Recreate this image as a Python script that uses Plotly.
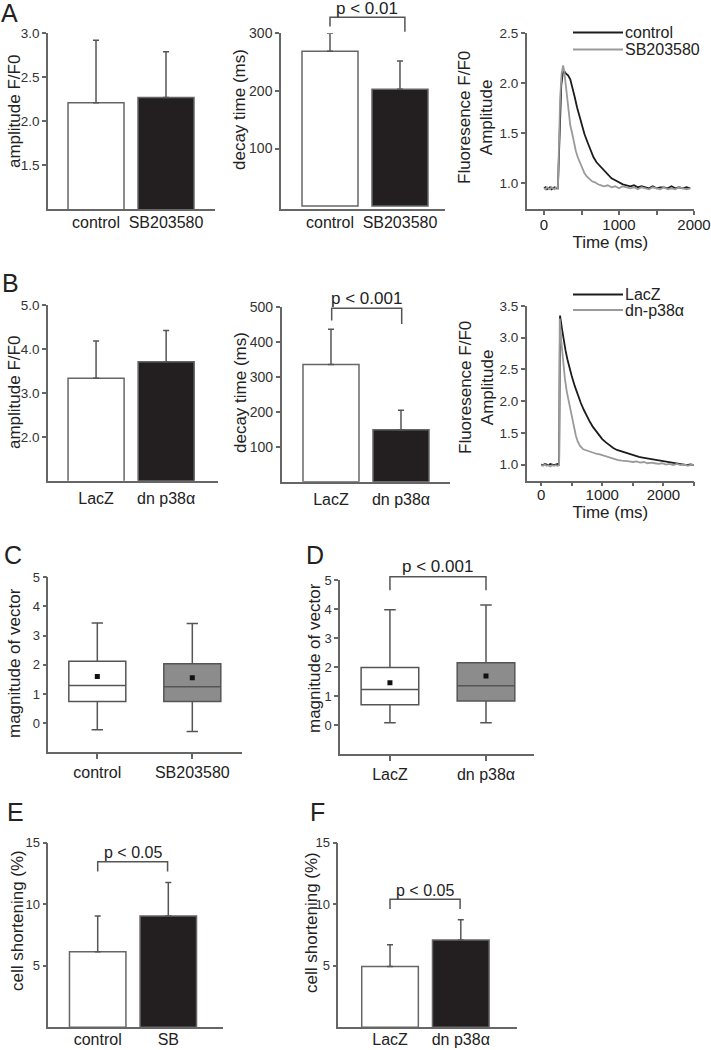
import plotly.graph_objects as go

W, H = 711, 1050
FONT = "Arial, Liberation Sans, Helvetica, sans-serif"
AX = "#666666"
TXT = "#222222"
TICKC = "#333333"

# ---------------- data ----------------
a_cats = ["control", "SB203580"]
a_amp = [2.21, 2.27]
a_amp_err = [0.71, 0.52]
a_decay = [269, 203]
a_decay_err = [31, 49]

b_cats = ["LacZ", "dn p38α"]
b_amp = [3.33, 3.71]
b_amp_err = [0.85, 0.71]
b_decay = [336, 149]
b_decay_err = [101, 56]

# Fluorescence traces, panel A
a_ctrl_t = [0, 20, 40, 60, 80, 100, 120, 140, 160, 185, 200, 215, 230, 250, 270, 290, 320, 350, 380, 410,
            440, 470, 500, 540, 580, 620, 660, 700, 750, 800, 850, 900, 950, 1000, 1050, 1100, 1150, 1200,
            1250, 1300, 1350, 1400, 1450, 1500, 1550, 1600, 1650, 1700, 1750, 1800, 1850, 1900, 1950]
a_ctrl_v = [0.95, 0.96, 0.94, 0.95, 0.96, 0.94, 0.95, 0.96, 0.95, 0.95, 1.30, 1.75, 1.98, 2.10, 2.12, 2.10,
            2.08, 2.04, 1.96, 1.86, 1.76, 1.67, 1.58, 1.49, 1.41, 1.33, 1.26, 1.21, 1.17, 1.12, 1.08, 1.05,
            1.03, 1.01, 0.99, 0.98, 0.97, 0.98, 0.96, 0.97, 0.96, 0.95, 0.97, 0.95, 0.96, 0.96, 0.95, 0.97,
            0.95, 0.96, 0.95, 0.96, 0.95]
a_sb_t = [0, 20, 40, 60, 80, 100, 120, 140, 160, 185, 200, 215, 235, 255, 270, 290, 310, 330, 350, 375,
          400, 425, 450, 480, 510, 540, 570, 600, 640, 680, 720, 760, 800, 850, 900, 950, 1000, 1050, 1100,
          1150, 1200, 1250, 1300, 1350, 1400, 1450, 1500, 1550, 1600, 1650, 1700, 1750, 1800, 1850, 1900, 1950]
a_sb_v = [0.95, 0.94, 0.96, 0.95, 0.94, 0.96, 0.95, 0.94, 0.96, 0.95, 1.40, 1.85, 2.10, 2.18, 2.12, 1.98,
          1.80, 1.65, 1.58, 1.50, 1.40, 1.32, 1.26, 1.20, 1.14, 1.10, 1.07, 1.05, 1.02, 1.01, 0.99, 0.98,
          0.97, 0.98, 0.96, 0.97, 0.95, 0.97, 0.96, 0.95, 0.96, 0.94, 0.96, 0.95, 0.94, 0.96, 0.95, 0.94,
          0.96, 0.94, 0.95, 0.94, 0.96, 0.95, 0.94, 0.95]

# Fluorescence traces, panel B
b_lacz_t = [0, 30, 60, 90, 120, 150, 180, 210, 240, 270, 295, 310, 340, 370, 400, 430, 460, 500, 550, 600,
            650, 700, 750, 800, 850, 900, 950, 1000, 1060, 1120, 1180, 1240, 1300, 1360, 1420, 1480, 1540,
            1600, 1660, 1720, 1780, 1840, 1900, 1960, 2020, 2080, 2140, 2200, 2260, 2320, 2380, 2440, 2500]
b_lacz_v = [1.00, 0.99, 1.01, 1.00, 0.99, 1.01, 1.00, 0.99, 1.00, 1.01, 1.00, 3.35, 3.15, 2.95, 2.80, 2.66,
            2.54, 2.40, 2.24, 2.10, 1.97, 1.86, 1.76, 1.67, 1.59, 1.52, 1.45, 1.40, 1.35, 1.30, 1.26, 1.23,
            1.21, 1.19, 1.17, 1.15, 1.14, 1.12, 1.11, 1.10, 1.09, 1.07, 1.06, 1.05, 1.04, 1.03, 1.02, 1.01,
            1.01, 1.00, 0.99, 1.00, 0.99]
b_dn_t = [0, 30, 60, 90, 120, 150, 180, 210, 240, 270, 295, 305, 330, 360, 390, 420, 450, 480, 510, 540,
          570, 600, 640, 690, 750, 800, 850, 900, 960, 1020, 1080, 1140, 1200, 1260, 1320, 1380, 1440, 1500,
          1560, 1620, 1680, 1740, 1800, 1860, 1920, 1980, 2040, 2100, 2160, 2220, 2280, 2340, 2400, 2460, 2500]
b_dn_v = [0.99, 0.98, 1.00, 0.98, 0.99, 0.97, 0.99, 0.98, 0.99, 0.98, 0.99, 3.30, 2.95, 2.60, 2.35, 2.15,
          2.00, 1.85, 1.72, 1.58, 1.45, 1.36, 1.29, 1.24, 1.22, 1.20, 1.19, 1.17, 1.16, 1.14, 1.12, 1.10,
          1.08, 1.07, 1.06, 1.06, 1.05, 1.04, 1.05, 1.03, 1.04, 1.02, 1.03, 1.02, 1.01, 1.02, 1.00, 1.01,
          0.99, 1.01, 0.99, 1.00, 0.98, 1.00, 0.99]

# Box plots (magnitude of vector)
c_cats = ["control", "SB203580"]
c_q1 = [0.74, 0.74]
c_median = [1.29, 1.25]
c_q3 = [2.12, 2.04]
c_low = [-0.23, -0.29]
c_high = [3.43, 3.42]
c_mean = [1.60, 1.56]

d_cats = ["LacZ", "dn p38α"]
d_q1 = [0.70, 0.83]
d_median = [1.22, 1.35]
d_q3 = [1.98, 2.15]
d_low = [0.08, 0.08]
d_high = [3.97, 4.14]
d_mean = [1.46, 1.69]

# Cell shortening
e_cats = ["control", "SB"]
e_short = [6.14, 9.05]
e_short_err = [2.91, 2.71]
f_cats = ["LacZ", "dn p38α"]
f_short = [4.95, 7.10]
f_short_err = [1.75, 1.63]

# significance brackets: (panel, x-left, x-right, top, left-leg bottom, right-leg bottom, label, font, shift)
brackets = [
    (2, 0.0, 1.07, 328, 311.6, 302.8, "p &lt; 0.01", 17, 8.5),
    (5, 0.01, 1.01, 497, 462, 452, "p &lt; 0.001", 17, 10),
    (8, 0.0, 1.0, 5.11, 4.65, 4.65, "p &lt; 0.001", 17, 10),
    (9, 0.0, 0.99, 13.46, 12.65, 12.65, "p &lt; 0.05", 16, 9),
    (10, 0.0, 0.99, 10.4, 9.62, 9.62, "p &lt; 0.05", 16, 9),
]

# ---------------- layout geometry (pixels) ----------------
panels = {
    1: (48, 215, 33.3, 209, [-0.686, 1.7], [1.0, 3.0]),
    2: (281, 445, 33.3, 209, [-0.7, 1.643], [-5, 300]),
    3: (526.7, 694, 33.3, 209.3, [-231, 2000], [0.74, 2.5]),
    4: (48, 218, 305, 480.7, [-0.686, 1.74], [1.0, 5.0]),
    5: (281.7, 450, 307.3, 481.7, [-0.704, 1.7], [0, 500]),
    6: (526.7, 694, 306, 480.7, [-235, 2500], [0.745, 3.5]),
    7: (48.3, 241.7, 577.3, 752.3, [-0.516, 1.52], [-1, 5]),
    8: (340, 534.3, 580, 754, [-0.52, 1.503], [-1, 5]),
    9: (48.3, 223, 842.7, 1027.3, [-0.70, 1.775], [0, 15]),
    10: (338.3, 516.7, 842.7, 1027.3, [-0.731, 1.79], [0, 15]),
}
label_standoff = {1: -2, 2: -2, 3: -3, 4: 2, 5: 2, 6: -4, 7: 0, 8: 0, 9: -3, 10: -3}


def xdom(a, b):
    return [a / W, b / W]


def ydom(t, b):
    return [1 - b / H, 1 - t / H]


def fr(v, r):
    return (v - r[0]) / (r[1] - r[0])


fig = go.Figure()


def axn(i):
    return ("x" if i == 1 else f"x{i}"), ("y" if i == 1 else f"y{i}")


def add_bars(i, cats, vals, errs):
    xa, ya = axn(i)
    fig.add_trace(go.Bar(
        x=cats, y=vals, xaxis=xa, yaxis=ya, width=0.8,
        marker=dict(color=["#ffffff", "#231f20"], line=dict(color=AX, width=1.5)),
        error_y=dict(type="data", array=errs, arrayminus=[0] * len(errs), symmetric=False,
                     color="#555555", thickness=1.5, width=3),
        showlegend=False))


add_bars(1, a_cats, a_amp, a_amp_err)
add_bars(2, a_cats, a_decay, a_decay_err)
add_bars(4, b_cats, b_amp, b_amp_err)
add_bars(5, b_cats, b_decay, b_decay_err)
add_bars(9, e_cats, e_short, e_short_err)
add_bars(10, f_cats, f_short, f_short_err)

DARK = "#1c1c1c"
GRAY = "#9a9a9a"
fig.add_trace(go.Scatter(x=a_ctrl_t, y=a_ctrl_v, xaxis="x3", yaxis="y3", mode="lines",
                         line=dict(color=DARK, width=1.8), showlegend=False))
fig.add_trace(go.Scatter(x=a_sb_t, y=a_sb_v, xaxis="x3", yaxis="y3", mode="lines",
                         line=dict(color=GRAY, width=1.8), showlegend=False))
fig.add_trace(go.Scatter(x=b_lacz_t, y=b_lacz_v, xaxis="x6", yaxis="y6", mode="lines",
                         line=dict(color=DARK, width=1.8), showlegend=False))
fig.add_trace(go.Scatter(x=b_dn_t, y=b_dn_v, xaxis="x6", yaxis="y6", mode="lines",
                         line=dict(color=GRAY, width=1.8), showlegend=False))


def add_boxes(i, cats, q1, med, q3, lo, hi, mean):
    xa, ya = axn(i)
    fills = ["#ffffff", "#8c8c8c"]
    for k in range(len(cats)):
        fig.add_trace(go.Box(
            x=[cats[k]], q1=[q1[k]], median=[med[k]], q3=[q3[k]],
            lowerfence=[lo[k]], upperfence=[hi[k]], xaxis=xa, yaxis=ya,
            boxpoints=False, fillcolor=fills[k], line=dict(color="#555555", width=1.5),
            width=0.6, whiskerwidth=0.2, showlegend=False))
    fig.add_trace(go.Scatter(x=cats, y=mean, xaxis=xa, yaxis=ya, mode="markers",
                             marker=dict(symbol="square", size=5, color="#111111"),
                             showlegend=False))


add_boxes(7, c_cats, c_q1, c_median, c_q3, c_low, c_high, c_mean)
add_boxes(8, d_cats, d_q1, d_median, d_q3, d_low, d_high, d_mean)

# ---------------- axes ----------------
ytick = {
    1: ([1.5, 2.0, 2.5, 3.0], ".1f", 13.5),
    2: ([100, 200, 300], "d", 14),
    3: ([1.0, 1.5, 2.0, 2.5], ".1f", 13.5),
    4: ([2.0, 3.0, 4.0, 5.0], ".1f", 13.5),
    5: ([100, 200, 300, 400, 500], "d", 14),
    6: ([1.0, 1.5, 2.0, 2.5, 3.0, 3.5], ".1f", 13.5),
    7: ([0, 1, 2, 3, 4, 5], "d", 13),
    8: ([0, 1, 2, 3, 4, 5], "d", 13),
    9: ([5, 10, 15], "d", 13),
    10: ([5, 10, 15], "d", 13),
}
layout_axes = {}
for i, (x0, x1, yt, yb, xr, yr) in panels.items():
    xk = "xaxis" if i == 1 else f"xaxis{i}"
    yk = "yaxis" if i == 1 else f"yaxis{i}"
    xa_name, ya_name = axn(i)
    xcfg = dict(domain=xdom(x0, x1), range=xr, anchor=ya_name, showline=True, linecolor=AX,
                linewidth=1.5, showgrid=False, zeroline=False, fixedrange=True, automargin=False,
                ticklabelstandoff=label_standoff[i],
                tickfont=dict(family=FONT, size=16, color=TXT))
    if i in (3, 6):
        xcfg.update(type="linear", tickvals=[0, 500, 1000, 1500, 2000] + ([2500] if i == 6 else []),
                    ticktext=["0", "", "1000", "", "2000"] + ([""] if i == 6 else []),
                    ticks="outside", ticklen=4, tickwidth=1.5, tickcolor=AX,
                    tickfont=dict(family=FONT, size=15, color=TXT),
                    title=dict(text="Time (ms)", font=dict(family=FONT, size=17, color=TXT), standoff=0))
    elif i in (7, 8):
        xcfg.update(type="category", ticks="outside", ticklen=5, tickwidth=1.5, tickcolor=AX)
    else:
        xcfg.update(type="category", ticks="")
    vals, fmt, fs = ytick[i]
    ycfg = dict(domain=ydom(yt, yb), range=yr, anchor=xa_name, showline=True, linecolor=AX,
                linewidth=1.5, showgrid=False, zeroline=False, fixedrange=True, automargin=False,
                tickvals=vals, tickformat=fmt, ticks="outside", ticklen=4, tickwidth=1.5,
                tickcolor=AX, tickfont=dict(family=FONT, size=fs, color=TICKC))
    layout_axes[xk] = xcfg
    layout_axes[yk] = ycfg

shapes = []
annotations = []

# brackets
for (i, xl, xr_, top, bl, br, label, fs, shift) in brackets:
    x0, x1, yt, yb, xrng, yrng = panels[i]
    xa_name, ya_name = axn(i)
    xref = xa_name + " domain"
    yref = ya_name + " domain"
    fx0, fx1 = fr(xl, xrng), fr(xr_, xrng)
    fyt, fyl, fyr = fr(top, yrng), fr(bl, yrng), fr(br, yrng)
    shapes.append(dict(type="path", xref=xref, yref=yref,
                       path=f"M {fx0} {fyl} L {fx0} {fyt} L {fx1} {fyt} L {fx1} {fyr}",
                       line=dict(color="#555555", width=1.5)))
    annotations.append(dict(xref=xref, yref=yref, x=(fx0 + fx1) / 2, y=fyt, yanchor="middle",
                            yshift=shift, showarrow=False, text=label, borderpad=0,
                            font=dict(family=FONT, size=fs, color=TXT)))

# legends for traces
legend_items = [
    (32.5, DARK, "control"), (49.5, GRAY, "SB203580"),
    (294.5, DARK, "LacZ"), (310, GRAY, "dn-p38α"),
]
for (py, col, lab) in legend_items:
    shapes.append(dict(type="line", xref="paper", yref="paper", x0=573 / W, x1=623 / W,
                       y0=1 - py / H, y1=1 - py / H, line=dict(color=col, width=2)))
    annotations.append(dict(xref="paper", yref="paper", x=624 / W, y=1 - py / H, xanchor="left",
                            yanchor="middle", showarrow=False, text=lab, borderpad=0,
                            font=dict(family=FONT, size=16, color=TXT)))

# y-axis titles
ytitles = [
    (14, 112, "amplitude F/F0"), (240, 110, "decay time (ms)"),
    (476, 118, "Fluoresence F/F0<br>Amplitude"),
    (14, 393, "amplitude F/F0"), (240, 393, "decay time (ms)"),
    (476, 388, "Fluoresence F/F0<br>Amplitude"),
    (14, 663, "magnitude of vector"), (314, 658, "magnitude of vector"),
    (17, 921, "cell shortening (%)"), (311, 923, "cell shortening (%)"),
]
for (px, py, t) in ytitles:
    annotations.append(dict(xref="paper", yref="paper", x=px / W, y=1 - py / H, xanchor="center",
                            yanchor="middle", textangle=-90, showarrow=False, text=t,
                            font=dict(family=FONT, size=17, color=TXT)))

# panel letters
letters = [(9, 13, "A"), (10, 283, "B"), (13, 555, "C"), (315, 555, "D"), (15, 812, "E"), (317, 812, "F")]
for (px, py, t) in letters:
    annotations.append(dict(xref="paper", yref="paper", x=px / W, y=1 - py / H, xanchor="center",
                            yanchor="middle", showarrow=False, text=t,
                            font=dict(family=FONT, size=25, color=TXT)))

fig.update_layout(
    width=W, height=H, margin=dict(l=0, r=0, t=0, b=0, pad=0, autoexpand=False),
    paper_bgcolor="white", plot_bgcolor="white",
    boxmode="overlay", bargap=0.2, showlegend=False,
    shapes=shapes, annotations=annotations,
    font=dict(family=FONT, color=TXT),
    **layout_axes,
)

fig.write_html("out.html", config={"displayModeBar": False},
               post_script="document.body.style.margin='0px';document.body.style.overflow='hidden';")
